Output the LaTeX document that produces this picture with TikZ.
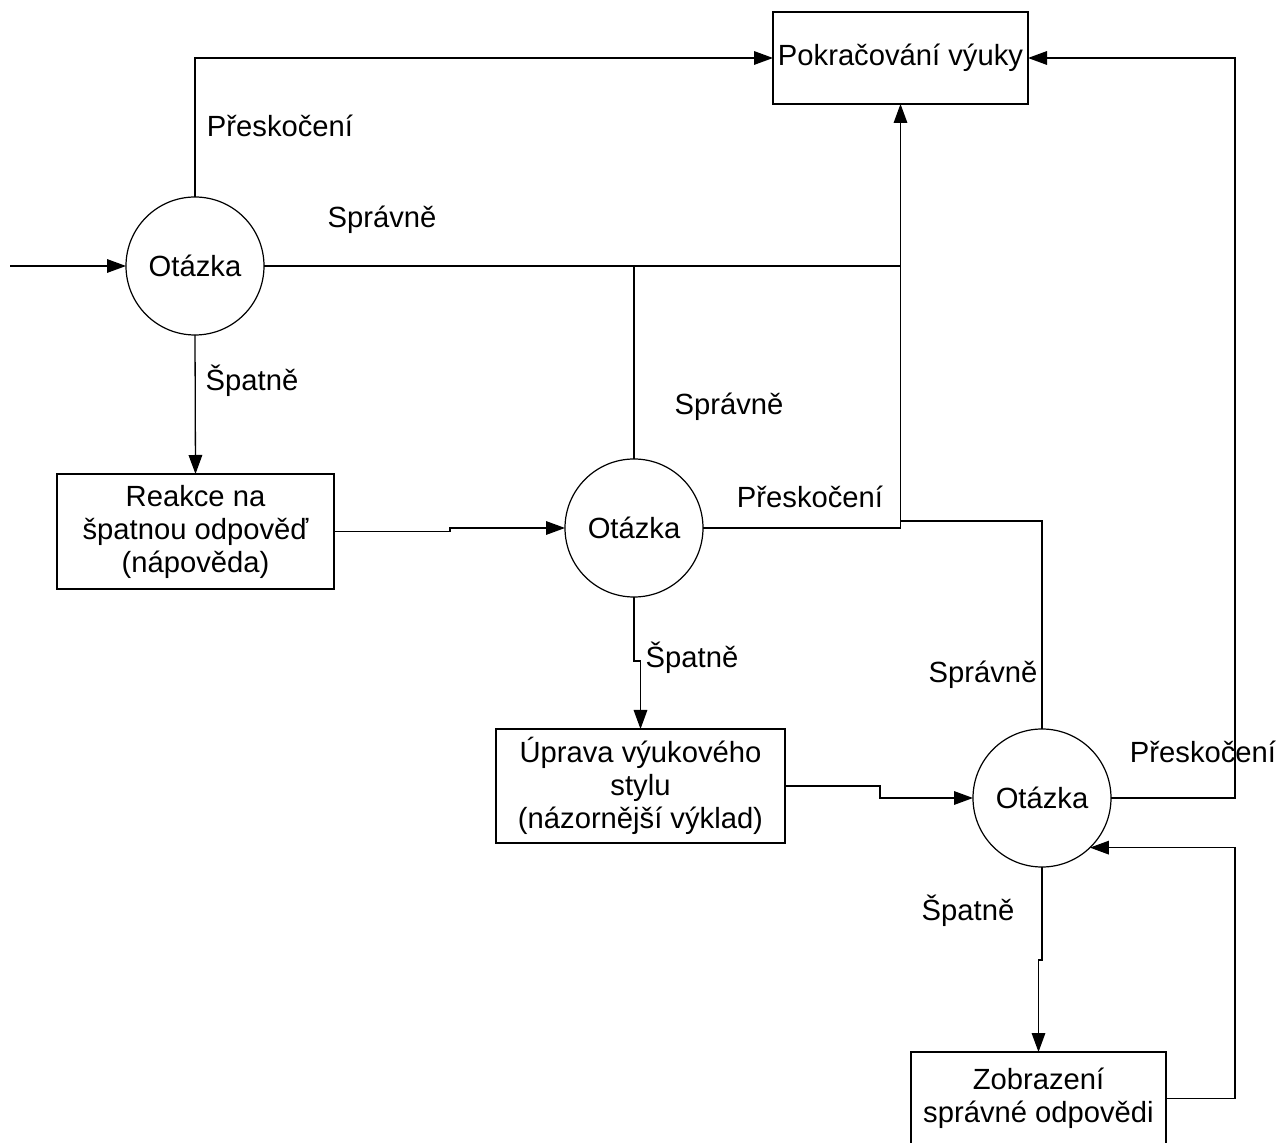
\documentclass[tikz,border=0pt]{standalone}
\usepackage{fontspec}
\setmainfont{Liberation Sans}
\usetikzlibrary{arrows.meta,calc}
\begin{document}
\begin{tikzpicture}[x=0.5pt,y=-0.5pt,
  every node/.style={font=\fontsize{14.6}{16.5}\selectfont, inner sep=0pt, outer sep=0pt},
  box/.style={draw, line width=0.65pt, minimum width=#1, align=center},
  qcirc/.style={draw, circle, line width=0.6pt, minimum size=69pt},
  conn/.style={line width=0.65pt},
  arr/.style={conn, -{Triangle[length=9.5pt,width=6.8pt]}},
  lbl/.style={}
]
\useasboundingbox (0,0) rectangle (1280,1143);
% nodes
\node[box=127.5pt, minimum height=46pt] (pok) at (900.5,58) {Pokračování výuky};
\node[qcirc] (q1) at (195,266) {Otázka};
\node[box=138.5pt, minimum height=57.5pt] (reak) at (195.5,531.5) {Reakce na\\špatnou odpověď\\(nápověda)};
\node[qcirc] (q2) at (634,528) {Otázka};
\node[box=144.5pt, minimum height=57pt] (up) at (640.5,786) {Úprava výukového\\stylu\\(názornější výklad)};
\node[qcirc] (q3) at (1042,798) {Otázka};
\node[box=127.5pt, minimum height=46.5pt] (zob) at (1038.5,1098.5) {Zobrazení\\správné odpovědi};
% junction coordinates
\coordinate (start) at (10,266);
\coordinate (j1) at (pok.south |- q1.east);
\coordinate (j2) at ($(pok.south |- q2.east)+(0,-7)$);
% connectors
\draw[arr] (start) -- (q1.west);
\draw[arr] (q1.north) |- (pok.west);
\draw[arr] (q1.east) -| (pok.south);
\draw[conn] (q2.north) -- (q2.north |- j1);
\draw[conn] (q2.east) -| (j1);
\draw[conn] (q3.north) |- (j2);
\draw[arr] (q1.south) -- (reak.north);
\draw[arr] (reak.east) -- ++(116,0) |- (q2.west);
\draw[arr] (q2.south) -- ++(0,64) -| (up.north);
\draw[arr] (up.east) -- ++(95,0) |- (q3.west);
\draw[arr] (q3.east) -- ++(124,0) |- (pok.east);
\draw[arr] (q3.south) -- ++(0,93) -| (zob.north);
\draw[arr] (zob.east) -- ++(69,0) |- (q3.-46);
% labels
\node[lbl] (l1) at (280,126) {Přeskočení};
\node[lbl] (l2) at (382,220) {Správně};
\node[lbl] (l3) at (252,381) {Špatně};
\node[lbl] (l4) at (729,407) {Správně};
\node[lbl] (l5) at (810,497) {Přeskočení};
\node[lbl] (l6) at (692,658) {Špatně};
\node[lbl] (l7) at (983,675) {Správně};
\node[lbl] (l8) at (1203,752) {Přeskočení};
\node[lbl] (l9) at (968,911) {Špatně};
\end{tikzpicture}
\end{document}
